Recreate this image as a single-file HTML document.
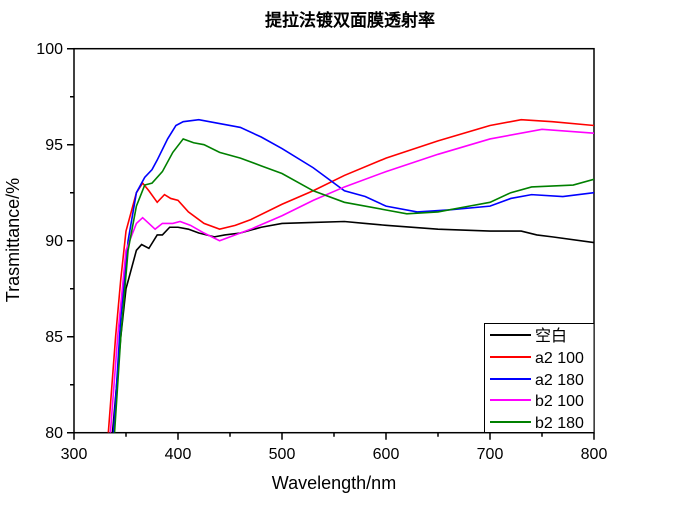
<!DOCTYPE html><html><head><meta charset="utf-8"><style>body{margin:0;background:#fff}svg{display:block}text{font-family:"Liberation Sans",sans-serif}</style></head><body>
<svg width="690" height="513" xmlns="http://www.w3.org/2000/svg">
<text x="350" y="26" font-size="17" text-anchor="middle" font-family="'Noto Serif CJK SC','Noto Sans CJK SC',serif" font-weight="bold">提拉法镀双面膜透射率</text>
<g stroke="#000" stroke-width="1.5" fill="none">
<rect x="74" y="48.7" width="520" height="384"/>
<path d="M74 48.7h-7M74 144.7h-7M74 240.7h-7M74 336.7h-7M74 432.7h-7M74 96.7h-4M74 192.7h-4M74 288.7h-4M74 384.7h-4
M74 432.7v7M178 432.7v7M282 432.7v7M386 432.7v7M490 432.7v7M594 432.7v7M126 432.7v4M230 432.7v4M334 432.7v4M438 432.7v4M542 432.7v4
M594 48.7h-0"/>
</g>
<g font-size="16" text-anchor="end"><text x="63" y="54">100</text><text x="63" y="150">95</text><text x="63" y="246">90</text><text x="63" y="342">85</text><text x="63" y="438">80</text></g>
<g font-size="16" text-anchor="middle"><text x="74" y="459">300</text><text x="178" y="459">400</text><text x="282" y="459">500</text><text x="386" y="459">600</text><text x="490" y="459">700</text><text x="594" y="459">800</text></g>
<text x="334" y="489" font-size="18" text-anchor="middle">Wavelength/nm</text>
<text transform="translate(19,240) rotate(-90)" font-size="18" text-anchor="middle">Trasmittance/%</text>
<svg x="74" y="48.7" width="520" height="384" overflow="hidden">
<g transform="matrix(1.04 0 0 -19.2 -312 1920)" fill="none" stroke-width="1.6">
<polyline vector-effect="non-scaling-stroke" stroke="#000" points="337,80 345,85 350,87.5 360,89.5 365,89.8 372,89.6 380,90.3 385,90.3 392,90.7 400,90.7 410,90.6 420,90.4 435,90.2 445,90.3 460,90.4 480,90.7 500,90.9 530,90.95 560,91 580,90.9 600,90.8 650,90.6 700,90.5 730,90.5 745,90.3 760,90.2 800,89.9"/>
<polyline vector-effect="non-scaling-stroke" stroke="#f00" points="333,80 340,85 345,88 350,90.5 360,92.5 366,93 372,92.6 380,92 387,92.4 393,92.2 400,92.1 410,91.5 425,90.9 440,90.6 455,90.8 470,91.1 500,91.9 530,92.6 560,93.4 600,94.3 650,95.2 700,96 730,96.3 760,96.2 800,96"/>
<polyline vector-effect="non-scaling-stroke" stroke="#00f" points="338,80 345,86 352,90 360,92.5 368,93.3 375,93.7 380,94.2 390,95.3 398,96 405,96.2 420,96.3 440,96.1 460,95.9 480,95.4 500,94.8 530,93.8 560,92.6 580,92.3 600,91.8 630,91.5 660,91.6 700,91.8 720,92.2 740,92.4 770,92.3 800,92.5"/>
<polyline vector-effect="non-scaling-stroke" stroke="#f0f" points="335,80 342,85 350,89.5 360,90.9 366,91.2 372,90.9 378,90.6 385,90.9 395,90.9 402,91 412,90.8 425,90.4 440,90 450,90.2 470,90.6 500,91.3 530,92.1 560,92.8 600,93.6 650,94.5 700,95.3 750,95.8 800,95.6"/>
<polyline vector-effect="non-scaling-stroke" stroke="#008000" points="339,80 345,85 352,89.5 360,91.8 368,92.9 375,93 385,93.6 395,94.6 405,95.3 415,95.1 425,95 440,94.6 460,94.3 480,93.9 500,93.5 530,92.6 560,92 600,91.6 620,91.4 650,91.5 680,91.8 700,92 720,92.5 740,92.8 780,92.9 800,93.2"/>
</g></svg>
<rect x="484.5" y="323.5" width="109.5" height="109" fill="#fff" stroke="#000" stroke-width="1"/>
<g stroke-width="2"><path d="M490 335h41" stroke="#000"/><path d="M490 357h41" stroke="#f00"/><path d="M490 379h41" stroke="#00f"/><path d="M490 400h41" stroke="#f0f"/><path d="M490 422h41" stroke="#008000"/></g>
<g font-size="16"><text x="535" y="341" font-family="'Liberation Sans','Noto Sans CJK SC',sans-serif">空白</text><text x="535" y="363">a2 100</text><text x="535" y="385">a2 180</text><text x="535" y="406">b2 100</text><text x="535" y="428">b2 180</text></g>
</svg></body></html>
